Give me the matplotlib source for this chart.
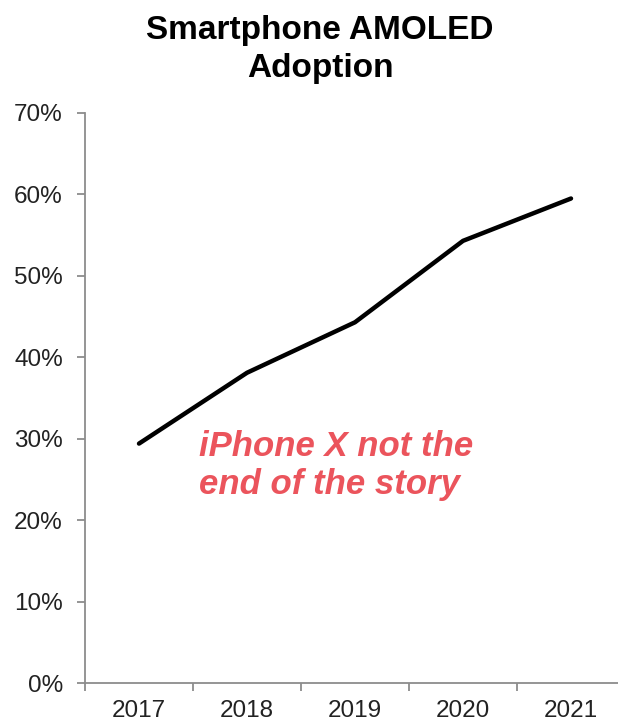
import matplotlib.pyplot as plt
from matplotlib.ticker import FixedLocator, NullFormatter

plt.rcParams["font.family"] = ["Liberation Sans", "DejaVu Sans"]

# AMOLED share of smartphone shipments
years = ["2017", "2018", "2019", "2020", "2021"]
adoption = [29.4, 38.1, 44.3, 54.3, 59.5]
y_ticks = [0, 10, 20, 30, 40, 50, 60, 70]

W, H = 618, 724
fig = plt.figure(figsize=(W / 100, H / 100), dpi=100)
# plot area runs slightly past the right edge of the canvas
ax = fig.add_axes([85 / W, 1 - 683 / H, (625 - 85) / W, (683 - 113) / H])

x = list(range(len(years)))
ax.plot(x, adoption, color="black", lw=3.2, solid_capstyle="round", solid_joinstyle="round")

ax.set_xlim(-0.5, len(years) - 0.5)
ax.set_ylim(0, 70)

axis_grey = "#8c8c8c"
for side in ["top", "right"]:
    ax.spines[side].set_visible(False)
for side in ["left", "bottom"]:
    ax.spines[side].set_color(axis_grey)
    ax.spines[side].set_linewidth(1.3)

ax.set_yticks(y_ticks)
ax.set_yticklabels([f"{v}%" for v in y_ticks], fontsize=17.5, color="#222222")
ax.tick_params(axis="y", length=6, width=1.3, color=axis_grey, pad=10)

# category boundaries get tick marks, labels sit between them
ax.xaxis.set_major_locator(FixedLocator([i - 0.5 for i in range(len(years) + 1)]))
ax.xaxis.set_major_formatter(NullFormatter())
ax.xaxis.set_minor_locator(FixedLocator(x))
ax.set_xticklabels(years, minor=True, fontsize=17.5, color="#222222")
ax.tick_params(axis="x", which="major", length=6, width=1.3, color=axis_grey)
ax.tick_params(axis="x", which="minor", length=0, pad=12)

fig.text(0.518, 1 - 31 / H, "Smartphone AMOLED", ha="center", va="center",
         fontsize=24, fontweight="bold")
fig.text(0.518, 1 - 69 / H, "Adoption", ha="center", va="center",
         fontsize=24, fontweight="bold")

ax.text(0.56, 26.7, "iPhone X not the\nend of the story", ha="left", va="center",
        fontsize=25, fontweight="bold", fontstyle="italic", color="#eb545c",
        linespacing=1.22)

fig.savefig("out.png", dpi=100)
